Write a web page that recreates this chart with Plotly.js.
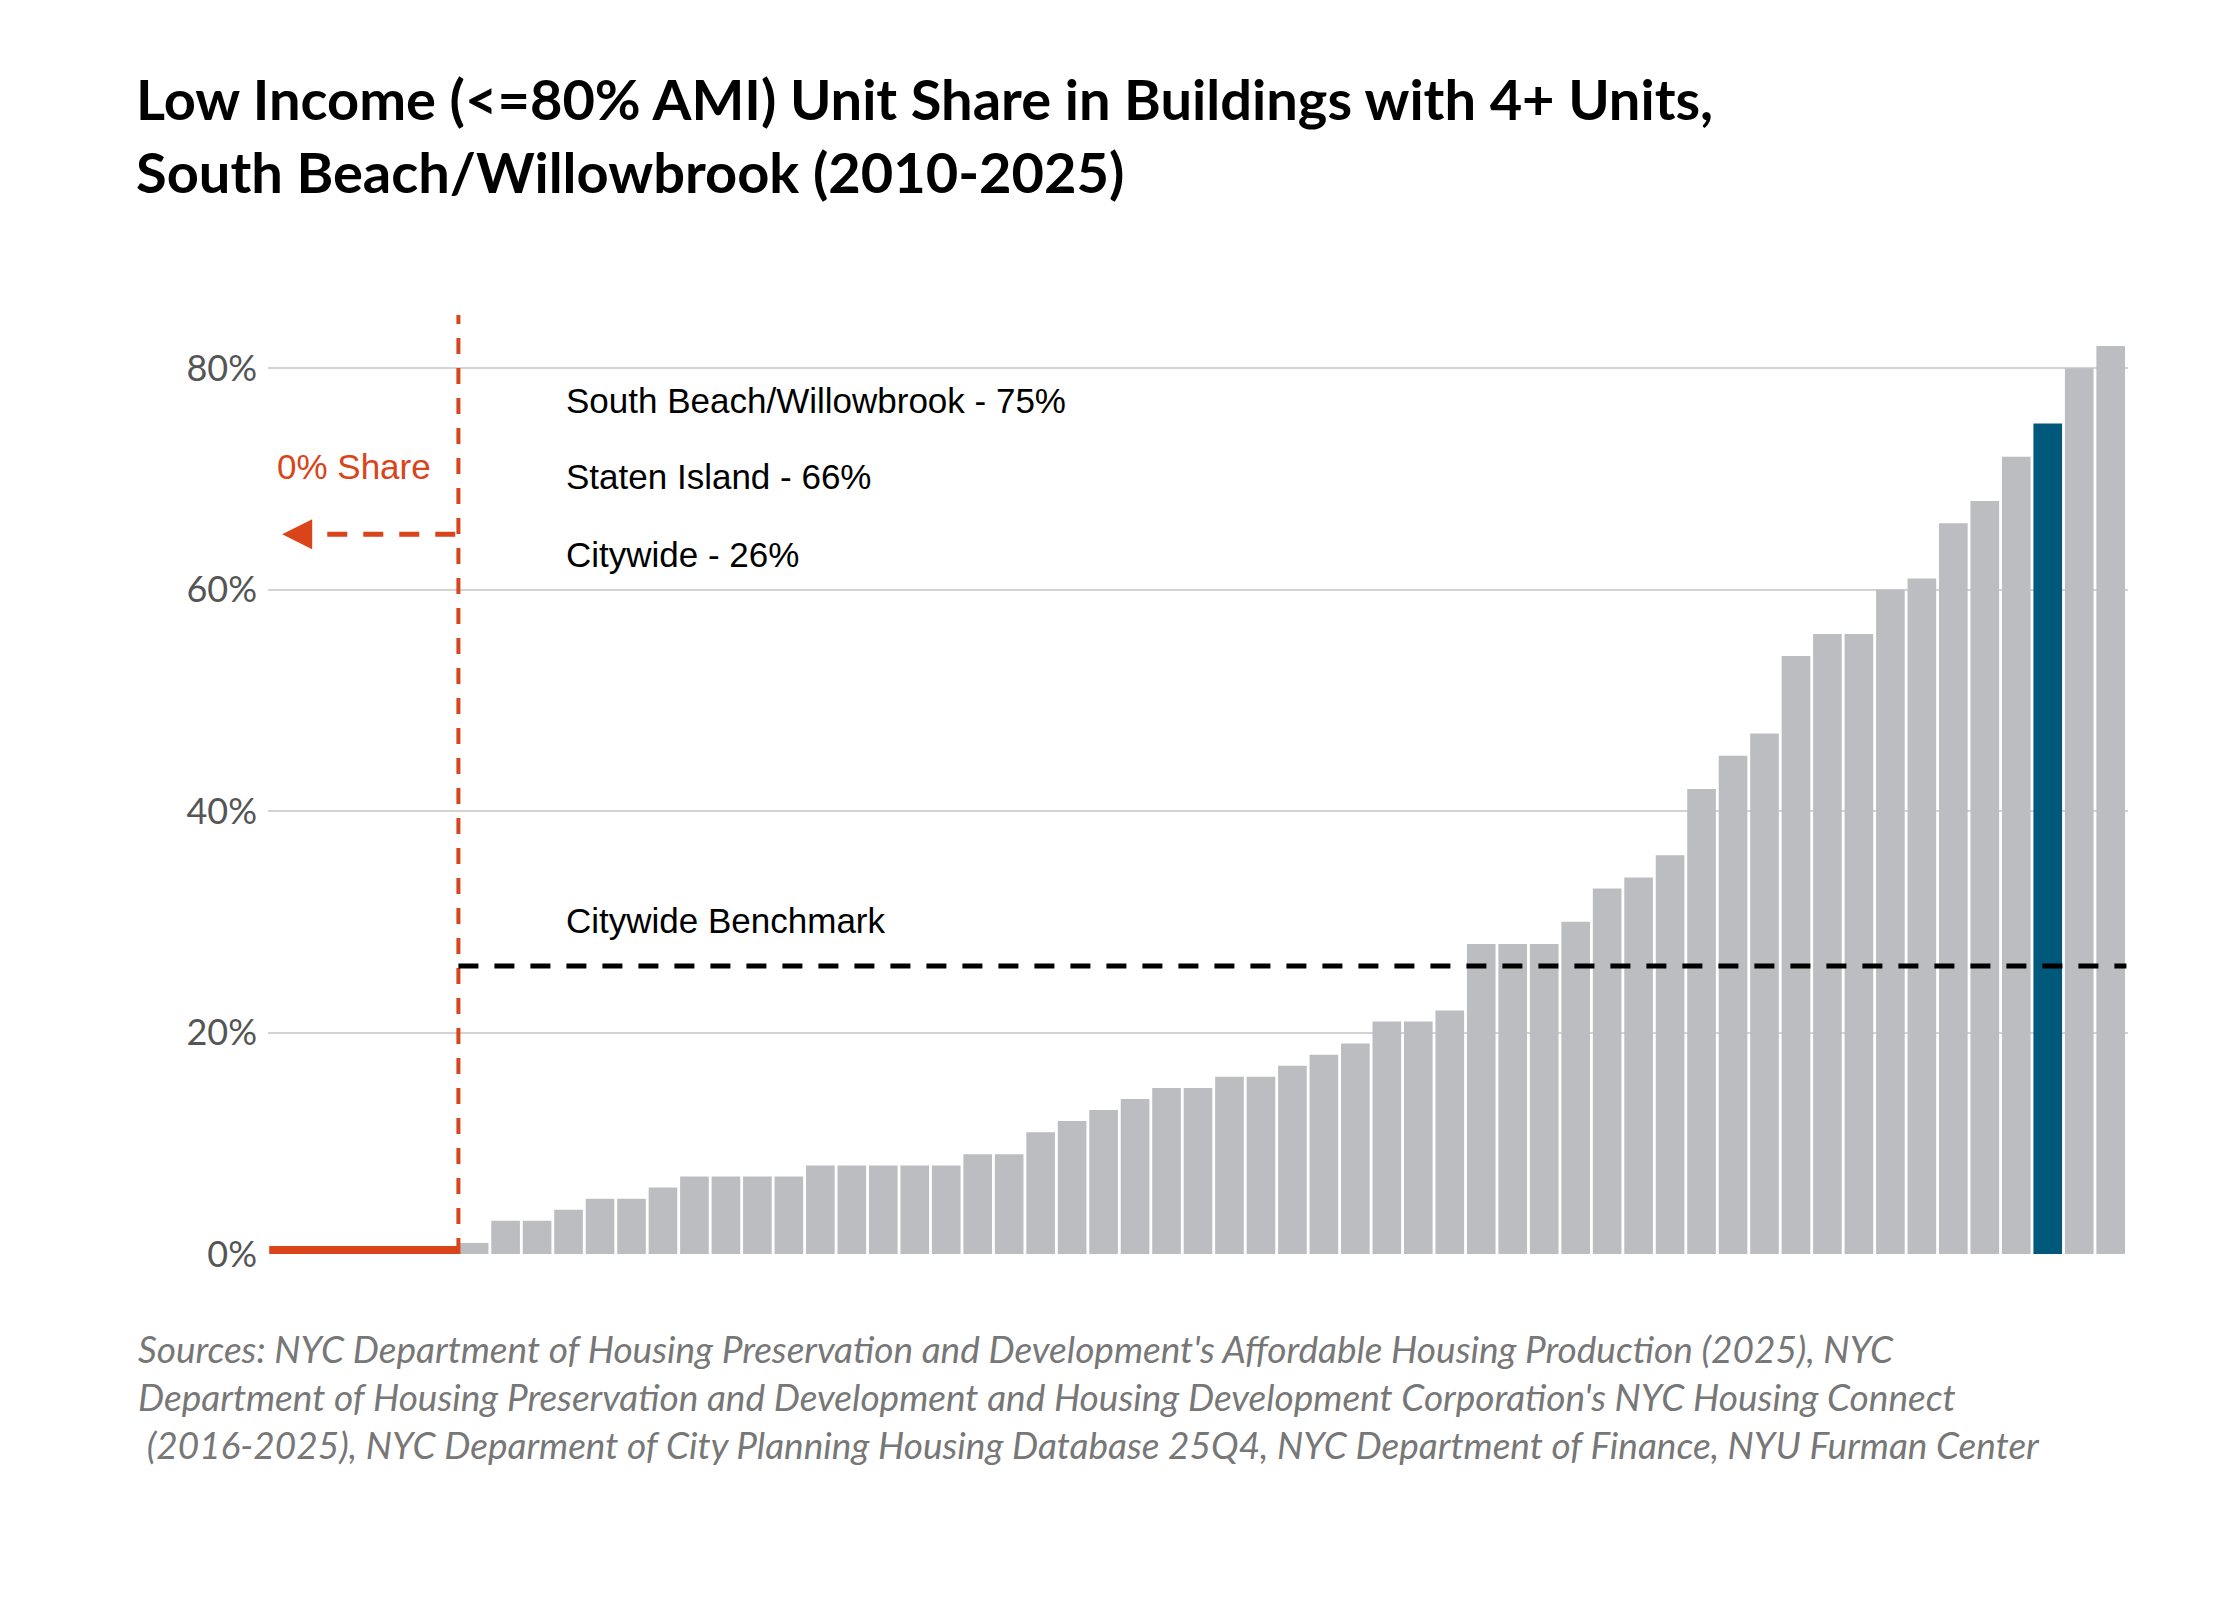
<!DOCTYPE html>
<html>
<head>
<meta charset="utf-8">
<script src="https://cdn.plot.ly/plotly-3.0.1.min.js"></script>
<style>body{margin:0;background:#fff}#chart{width:2240px;height:1600px}</style>
</head>
<body>
<div id="chart"></div>
<script>
// neighborhoods with 0% share (drawn as red dashes on the baseline)
const zeroCount = 6;
// remaining neighborhoods, sorted ascending (%)
const shares = [1, 3, 3, 4, 5, 5, 6, 7, 7, 7, 7, 8, 8, 8, 8, 8, 9, 9, 11, 12, 13, 14,
    15, 15, 16, 16, 17, 18, 19, 21, 21, 22, 28, 28, 28, 30, 33, 34, 36, 42, 45, 47,
    54, 56, 56, 60, 61, 66, 68, 72, 75, 80, 82];
const highlightValue = 75;
const citywide = 26;
const labels = ['South Beach/Willowbrook - 75%', 'Staten Island - 66%', 'Citywide - 26%'];

const x = [];
const colors = [];
for (let i = 0; i < shares.length; ++i) {
    x.push(zeroCount + i);
    colors.push(shares[i] === highlightValue ? '#00587a' : '#bcbdc1');
}
const zx = [];
const zy = [];
for (let i = 0; i < zeroCount; ++i) {
    zx.push(i);
    zy.push(0);
}
const lastX = zeroCount + shares.length - 1;

const bars = {
    x,
    y: shares,
    type: 'bar',
    marker: {color: colors},
    hoverinfo: 'y'
};

const zeros = {
    x: zx,
    y: zy.map(v => v + 0.35),
    mode: 'markers',
    type: 'scatter',
    marker: {symbol: 'line-ew', size: 23, line: {color: '#d9441a', width: 8}},
    hoverinfo: 'skip'
};

const font = 'Lato, "Open Sans", sans-serif';
const annFont = {family: '"Liberation Sans", Arial, sans-serif', size: 35, color: '#000'};

const layout = {
    width: 2240,
    height: 1600,
    showlegend: false,
    plot_bgcolor: '#fff',
    paper_bgcolor: '#fff',
    margin: {l: 268, r: 112, t: 315, b: 346},
    bargap: 0.09,
    title: {
        text: '<b>Low Income (<=80% AMI) Unit Share in Buildings with 4+ Units,<br>South Beach/Willowbrook (2010-2025)</b>',
        font: {family: font, size: 56, color: '#000'},
        x: 136 / 2240, xanchor: 'left', xref: 'container',
        y: 0.925, yanchor: 'top'
    },
    xaxis: {
        range: [-0.55, lastX + 0.55],
        showticklabels: false, showgrid: false, zeroline: false, ticks: ''
    },
    yaxis: {
        range: [0, 84.8],
        tickvals: [0, 20, 40, 60, 80],
        ticktext: ['0%', '20%', '40%', '60%', '80%'],
        tickfont: {family: font, size: 36, color: '#555'},
        gridcolor: '#d3d3d3', gridwidth: 2,
        zeroline: false, ticks: '', ticklabelstandoff: 10
    },
    shapes: [
        {type: 'line', xref: 'x', yref: 'y', x0: zeroCount - 0.5, x1: zeroCount - 0.5, y0: 0, y1: 84.8,
            line: {color: '#d9441a', width: 4, dash: '16px,14px'}},
        {type: 'line', xref: 'x', yref: 'y', x0: zeroCount - 0.5, x1: lastX + 0.5, y0: citywide, y1: citywide,
            line: {color: '#000', width: 5, dash: '20px,16px'}},
        {type: 'line', xref: 'x', yref: 'y', x0: zeroCount - 0.6, x1: 0.1, y0: 65, y1: 65,
            line: {color: '#d9441a', width: 5, dash: '20px,16px'}}
    ],
    annotations: [
        {xref: 'paper', yref: 'y', x: 0.159, y: 77.1, xanchor: 'left', text: labels[0], showarrow: false, font: annFont},
        {xref: 'paper', yref: 'y', x: 0.159, y: 70.2, xanchor: 'left', text: labels[1], showarrow: false, font: annFont},
        {xref: 'paper', yref: 'y', x: 0.159, y: 63.2, xanchor: 'left', text: labels[2], showarrow: false, font: annFont},
        {xref: 'paper', yref: 'y', x: 0.159, y: 30.1, xanchor: 'left', text: 'Citywide Benchmark', showarrow: false, font: annFont},
        {xref: 'paper', yref: 'y', x: 0.046, y: 71.1, xanchor: 'center', text: '0% Share', showarrow: false,
            font: {family: annFont.family, size: 35, color: '#d9441a'}},
        {xref: 'x', yref: 'y', x: -0.1, y: 65, axref: 'x', ayref: 'y', ax: 0.6, ay: 65, text: '',
            showarrow: true, arrowhead: 2, arrowsize: 1.2, arrowwidth: 5, arrowcolor: '#d9441a'},
        {xref: 'paper', yref: 'paper', x: -0.071, y: -0.075, xanchor: 'left', yanchor: 'top', align: 'left',
            showarrow: false,
            text: "<i>Sources: NYC Department of Housing Preservation and Development's Affordable Housing Production (2025), NYC<br>Department of Housing Preservation and Development and Housing Development Corporation's NYC Housing Connect<br> (2016-2025), NYC Deparment of City Planning Housing Database 25Q4, NYC Department of Finance, NYU Furman Center</i>",
            font: {family: font, size: 37, color: '#777'}}
    ]
};

Plotly.newPlot('chart', [bars, zeros], layout, {displayModeBar: false});
</script>
</body>
</html>
